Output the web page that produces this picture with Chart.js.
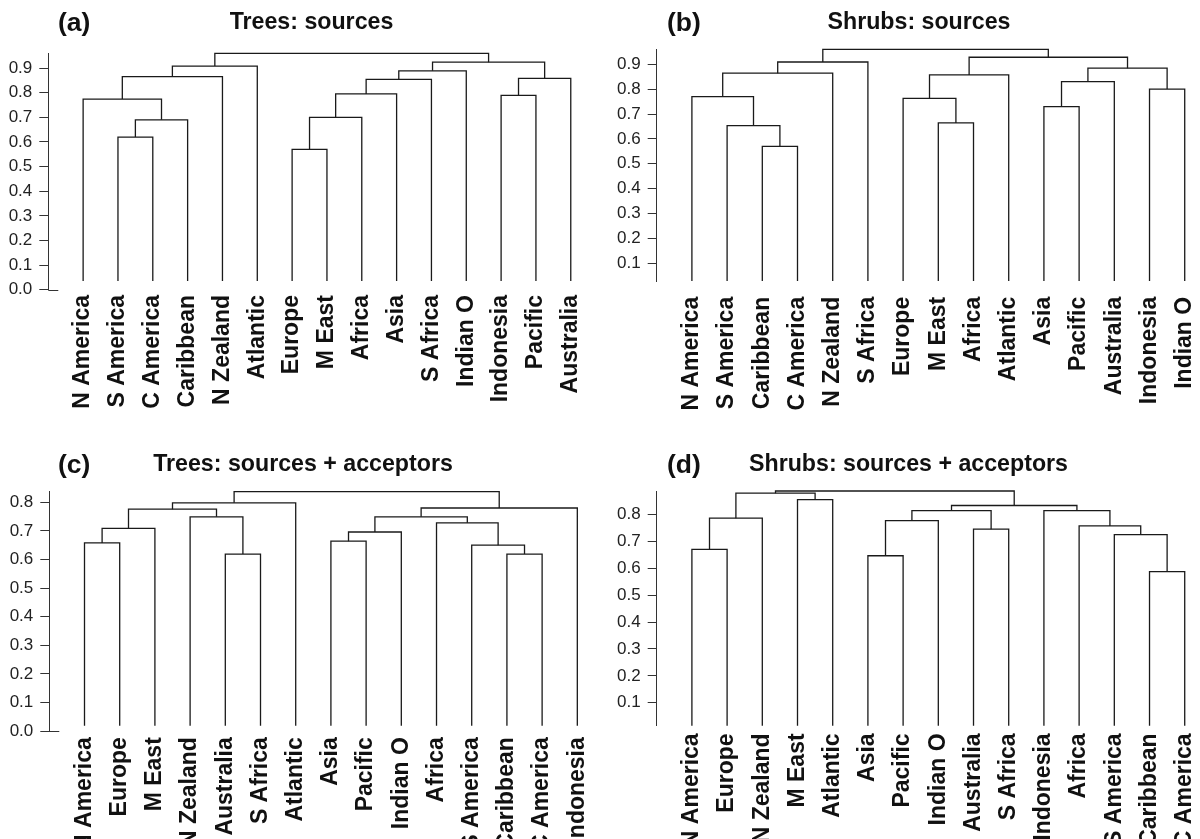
<!DOCTYPE html>
<html>
<head>
<meta charset="utf-8">
<script src="https://cdn.jsdelivr.net/npm/chart.js@4.4.1/dist/chart.umd.min.js"></script>
<style>
  body { margin: 0; background: #fff; width: 1200px; height: 839px; overflow: hidden; position: relative; font-family: "Liberation Sans", Arial, sans-serif; }
  canvas { position: absolute; }
  .tag, .ttl { position: absolute; font-weight: bold; color: #111; line-height: 1; white-space: nowrap; }
  .tag { font-size: 26.5px; }
  .ttl { font-size: 23.2px; width: 400px; text-align: center; }
</style>
</head>
<body>
<canvas id="ca" width="600" height="440" style="left:0;top:0"></canvas>
<canvas id="cb" width="600" height="440" style="left:600px;top:0"></canvas>
<canvas id="cc" width="600" height="399" style="left:0;top:440px"></canvas>
<canvas id="cd" width="600" height="399" style="left:600px;top:440px"></canvas>

<div class="tag" style="left:58px;top:9px">(a)</div>
<div class="ttl" style="left:111.5px;top:9.7px">Trees: sources</div>
<div class="tag" style="left:667px;top:9px">(b)</div>
<div class="ttl" style="left:719px;top:9.7px">Shrubs: sources</div>
<div class="tag" style="left:58px;top:451px">(c)</div>
<div class="ttl" style="left:103px;top:452px">Trees: sources + acceptors</div>
<div class="tag" style="left:667px;top:451px">(d)</div>
<div class="ttl" style="left:708.5px;top:452px">Shrubs: sources + acceptors</div>

<script>
// ---- data: leaf order, merges (negative = leaf, positive = earlier step), merge heights ----
const treesSrcLeaves = ["N America", "S America", "C America", "Caribbean", "N Zealand", "Atlantic", "Europe",
  "M East", "Africa", "Asia", "S Africa", "Indian O", "Indonesia", "Pacific", "Australia"];
const treesSrcMerge = [[-7, -8], [-2, -3], [2, -4], [1, -9], [-1, 3], [-13, -14], [4, -10],
  [7, -11], [6, -15], [5, -5], [8, -12], [10, -6], [11, 9], [12, 13]];
const treesSrcHeights = [0.570, 0.620, 0.690, 0.700, 0.774, 0.789, 0.795, 0.854, 0.858, 0.865, 0.889, 0.908, 0.924, 0.960];

const shrubsSrcLeaves = ["N America", "S America", "Caribbean", "C America", "N Zealand", "S Africa", "Europe",
  "M East", "Africa", "Atlantic", "Asia", "Pacific", "Australia", "Indonesia", "Indian O"];
const shrubsSrcMerge = [[-3, -4], [-2, 1], [-8, -9], [-11, -12], [-7, 3], [-1, 2], [-14, -15],
  [4, -13], [5, -10], [6, -5], [8, 7], [10, -6], [9, 11], [12, 13]];
const shrubsSrcHeights = [0.570, 0.653, 0.664, 0.730, 0.763, 0.770, 0.800, 0.830, 0.857, 0.864, 0.884, 0.909, 0.928, 0.960];

const treesAccLeaves = ["N America", "Europe", "M East", "N Zealand", "Australia", "S Africa", "Atlantic",
  "Asia", "Pacific", "Indian O", "Africa", "S America", "Caribbean", "C America", "Indonesia"];
const treesAccMerge = [[-5, -6], [-13, -14], [-12, 2], [-1, -2], [-8, -9], [5, -10], [4, -3],
  [-11, 3], [-4, 1], [6, 8], [7, 9], [10, -15], [11, -7], [13, 12]];
const treesAccHeights = [0.619, 0.619, 0.650, 0.658, 0.664, 0.696, 0.709, 0.728, 0.749, 0.749, 0.776, 0.780, 0.798, 0.837];

const shrubsAccLeaves = ["N America", "Europe", "N Zealand", "M East", "Atlantic", "Asia", "Pacific",
  "Indian O", "Australia", "S Africa", "Indonesia", "Africa", "S America", "Caribbean", "C America"];
const shrubsAccMerge = [[-14, -15], [-6, -7], [-1, -2], [-13, 1], [-9, -10], [-12, 4], [2, -8],
  [3, -3], [7, 5], [-11, 6], [9, 10], [-4, -5], [8, 12], [13, 11]];
const shrubsAccHeights = [0.588, 0.647, 0.671, 0.726, 0.746, 0.758, 0.778, 0.787, 0.815, 0.815, 0.834, 0.856, 0.880, 0.888];

// ---- panel layout (pixels) ----
const panels = {
  a: { yAxisW: 48.3, padTop: 53.3, xAxisH: 150.3, padRight: 15.3, yMin: 0, yMax: 0.96, leafBase: 0.035, labelGap: 5.3 },
  b: { yAxisW: 56.7, padTop: 49.3, xAxisH: 159, padRight: 1.2, yMin: 0.029, yMax: 0.96, leafBase: 0.029, labelGap: 15.8 },
  c: { yAxisW: 49.3, padTop: 51.7, xAxisH: 108, padRight: 8.6, yMin: 0, yMax: 0.837, leafBase: 0.0185, labelGap: 6.2 },
  d: { yAxisW: 56.7, padTop: 51, xAxisH: 113.3, padRight: 1.2, yMin: 0.0145, yMax: 0.888, leafBase: 0.0145, labelGap: 7.7 }
};

const lineColor = "#1a1a1a";
const axisColor = "#333";
Chart.defaults.font.family = '"Liberation Sans", Arial, sans-serif';

// turn the merge table into U-shaped segments
function dendroSegments(merge, heights, leafBase) {
  const pos = [];
  const segs = [];
  const child = k => k < 0 ? { x: -k, y: leafBase } : pos[k - 1];
  merge.forEach((m, i) => {
    const a = child(m[0]), b = child(m[1]), h = heights[i];
    pos.push({ x: (a.x + b.x) / 2, y: h });
    segs.push([{ x: a.x, y: a.y }, { x: a.x, y: h }, { x: b.x, y: h }, { x: b.x, y: b.y }]);
  });
  return segs;
}

// small mark to the right of the axis at 0.0
const zeroCross = {
  id: "zeroCross",
  afterDraw(chart) {
    const y = chart.scales.y;
    if (y.min > 0) return;
    const py = Math.round(y.getPixelForValue(0)) + 0.5;
    const ctx = chart.ctx;
    ctx.save();
    ctx.strokeStyle = axisColor;
    ctx.lineWidth = 1;
    ctx.beginPath();
    ctx.moveTo(chart.chartArea.left, py);
    ctx.lineTo(chart.chartArea.left + 10, py);
    ctx.stroke();
    ctx.restore();
  }
};

function makeChart(id, p, leaves, merge, heights) {
  const segs = dendroSegments(merge, heights, p.leafBase);
  new Chart(document.getElementById(id), {
    type: "line",
    data: {
      datasets: segs.map(s => ({
        data: s,
        borderColor: lineColor,
        borderWidth: 1.3,
        pointRadius: 0,
        fill: false,
        tension: 0,
        clip: false
      }))
    },
    options: {
      responsive: false,
      animation: false,
      devicePixelRatio: 1,
      events: [],
      layout: { padding: { top: p.padTop, right: p.padRight, left: 0, bottom: 0 } },
      plugins: { legend: { display: false }, tooltip: { enabled: false } },
      scales: {
        x: {
          type: "linear",
          min: 0,
          max: 15.4,
          grid: { display: false, drawTicks: false },
          border: { display: false },
          afterBuildTicks: s => { s.ticks = leaves.map((_, i) => ({ value: i + 1 })); },
          afterFit: s => { s.height = p.xAxisH; s.paddingLeft = 0; s.paddingRight = 0; },
          ticks: {
            autoSkip: false,
            maxRotation: 90,
            minRotation: 90,
            padding: p.labelGap,
            color: "#111",
            font: { size: 23, weight: "bold" },
            callback: v => leaves[v - 1]
          }
        },
        y: {
          min: p.yMin,
          max: p.yMax,
          afterFit: s => { s.width = p.yAxisW; },
          grid: { drawOnChartArea: false, tickLength: 9, color: axisColor, lineWidth: 1 },
          border: { display: true, color: axisColor, width: 1 },
          ticks: {
            stepSize: 0.1,
            includeBounds: false,
            padding: 7,
            color: "#222",
            font: { size: 17 },
            callback: v => v.toFixed(1)
          }
        }
      }
    },
    plugins: [zeroCross]
  });
}

makeChart("ca", panels.a, treesSrcLeaves, treesSrcMerge, treesSrcHeights);
makeChart("cb", panels.b, shrubsSrcLeaves, shrubsSrcMerge, shrubsSrcHeights);
makeChart("cc", panels.c, treesAccLeaves, treesAccMerge, treesAccHeights);
makeChart("cd", panels.d, shrubsAccLeaves, shrubsAccMerge, shrubsAccHeights);
</script>
</body>
</html>
